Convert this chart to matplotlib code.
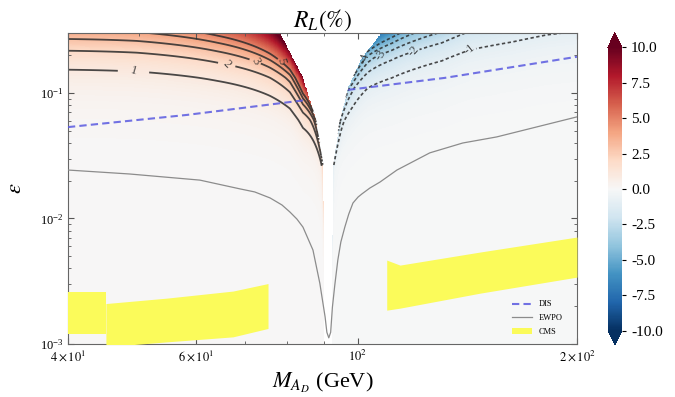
import numpy as np
import matplotlib

matplotlib.use("Agg")
import matplotlib.pyplot as plt
from matplotlib.ticker import LogLocator, NullFormatter

plt.rcParams["font.family"] = "serif"
plt.rcParams["font.serif"] = ["Liberation Serif", "DejaVu Serif"]
plt.rcParams["mathtext.fontset"] = "stix"

# R_L = +1 contour below the Z pole (M in GeV, epsilon)
unit_m_low = np.array([40.0, 49.7, 64.1, 75.8, 80.7, 84.1, 88.9])
unit_eps_low = np.array([0.153, 0.148, 0.1247, 0.0946, 0.075, 0.0526, 0.029])

# R_L = -1 contour above the Z pole
unit_m_high = np.array([95.1, 98.2, 103.3, 111.4, 121.0, 130.5, 142.6, 163.3, 182.0, 200.0])
unit_eps_high = np.array([0.0526, 0.0759, 0.1096, 0.1317, 0.158, 0.180, 0.2203, 0.255, 0.29, 0.31])

# edges of the blank V around the Z pole (left edge, right edge)
blank_m_low = np.array([78.2, 84.1, 87.6, 89.6, 90.3])
blank_eps_low = np.array([0.30, 0.132, 0.061, 0.0267, 1e-4])
blank_m_high = np.array([91.9, 92.4, 93.0, 94.5, 97.0, 101.3, 107.8])
blank_eps_high = np.array([1e-4, 0.025, 0.0321, 0.0598, 0.1096, 0.190, 0.30])
tip_eps = 0.026

# DIS bound, two pieces
dis_m_low = np.array([40.0, 58.3, 85.2])
dis_eps_low = np.array([0.0534, 0.0668, 0.0880])
dis_m_high = np.array([97.0, 131.7, 200.0])
dis_eps_high = np.array([0.1057, 0.1317, 0.194])

# EWPO bound
ewpo_m = np.array([40.0, 48.6, 60.7, 68.9, 72.2, 75.8, 78.7, 80.7, 82.5, 84.1, 86.8, 88.7, 90.2, 90.7,
                   91.25, 91.8, 92.3, 93.0, 93.9, 94.8, 96.0, 97.2, 98.5, 100.1, 101.3, 103.9, 107.3,
                   113.2, 125.6, 139.4, 155.2, 176.2, 200.0])
ewpo_eps = np.array([0.0243, 0.0226, 0.0202, 0.0172, 0.01626, 0.01456, 0.0128, 0.01125, 0.00989, 0.00853,
                     0.0056, 0.00305, 0.00164, 0.00124, 0.00112, 0.00124, 0.00196, 0.00294, 0.00466,
                     0.00649, 0.00853, 0.01083, 0.01327, 0.0148, 0.01566, 0.01746, 0.0195, 0.0243,
                     0.0333, 0.0399, 0.0446, 0.0536, 0.0644])

# CMS band, three pieces
cms_a_m = np.array([40.0, 45.1])
cms_a_top = np.array([0.00259, 0.00259])
cms_a_bot = np.array([0.0012, 0.0012])
cms_b_m = np.array([45.1, 54.7, 67.4, 75.3])
cms_b_top = np.array([0.0021, 0.00232, 0.00264, 0.00303])
cms_b_bot = np.array([0.00095, 0.00104, 0.00114, 0.00133])
cms_c_m = np.array([109.6, 114.3, 147.2, 200.0])
cms_c_top = np.array([0.00466, 0.00425, 0.0054, 0.00711])
cms_c_bot = np.array([0.00186, 0.00193, 0.00254, 0.00341])

pos_levels = [1, 2, 3, 4, 5]
neg_levels = [-5, -4, -3, -2, -1]
pos_label_at = [(49.7, 0.153), (65.7, 0.167), (73.4, 0.18), (80.2, 0.18)]
neg_label_at = [(142.6, 0.2203), (117.2, 0.2203), (109.6, 0.197), (102.3, 0.19)]

x_tick_vals = [40, 60, 100, 200]
x_tick_labels = [r"$4\times10^{1}$", r"$6\times10^{1}$", r"$10^{2}$", r"$2\times10^{2}$"]
cbar_ticks = [-10.0, -7.5, -5.0, -2.5, 0.0, 2.5, 5.0, 7.5, 10.0]
pole_gap = 63.0  # pole sits beyond the blank edge by pole_gap * eps**1.5 GeV


def pole_low(e):
    # left edge of the blank V as a function of epsilon, pushed out to the pole
    edge = np.interp(np.log10(e), np.log10(blank_eps_low[::-1]), blank_m_low[::-1])
    return edge, edge + pole_gap * e ** 1.5


def pole_high(e):
    edge = np.interp(np.log10(e), np.log10(blank_eps_high), blank_m_high)
    return edge, edge - pole_gap * e ** 1.5


# R_L grid: eps^2 / (pole^2 - M^2), normalised so the +/-1 contours pass the read points
amp_low = (pole_low(unit_eps_low)[1] ** 2 - unit_m_low ** 2) / unit_eps_low ** 2
amp_high = (unit_m_high ** 2 - pole_high(unit_eps_high)[1] ** 2) / unit_eps_high ** 2

m = np.geomspace(40, 200, 900)
eps = np.geomspace(1e-3, 0.3, 600)
MM, EE = np.meshgrid(m, eps)
a_low = np.interp(np.log10(m), np.log10(unit_m_low), amp_low)[np.newaxis, :]
a_high = np.interp(np.log10(m), np.log10(unit_m_high), amp_high)[np.newaxis, :]
edge_low, p_low = (v[:, np.newaxis] for v in pole_low(eps))
edge_high, p_high = (v[:, np.newaxis] for v in pole_high(eps))
left = MM < edge_low
right = MM > edge_high
with np.errstate(divide="ignore", invalid="ignore"):
    R = np.where(left, a_low * EE ** 2 / (p_low ** 2 - MM ** 2),
                 -a_high * EE ** 2 / (MM ** 2 - p_high ** 2))
R = np.ma.masked_where(~(left | right), R)
# contours stop where the blank V narrows to the thin column
R_lines = np.ma.masked_where((EE < tip_eps) & (MM > 86) & (MM < 96), R)

fig = plt.figure(figsize=(6.75, 3.97), dpi=100)
ax = fig.add_axes([0.1007, 0.1335, 0.754, 0.7834])
cax = fig.add_axes([0.9007, 0.131, 0.0207, 0.786])

pc = ax.pcolormesh(m, eps, R, cmap="RdBu_r", vmin=-10, vmax=10, shading="auto", rasterized=True)

cs_pos = ax.contour(m, eps, R_lines, levels=pos_levels, colors="#2b2b2b", linewidths=1.3,
                    linestyles="solid", alpha=0.85)
cs_neg = ax.contour(m, eps, R_lines, levels=neg_levels, colors="#2b2b2b", linewidths=1.2,
                    linestyles=[(0, (2.0, 1.5))], alpha=0.85)
ax.clabel(cs_pos, fmt="%d", fontsize=9, manual=pos_label_at)
ax.clabel(cs_neg, fmt="%d", fontsize=9, manual=neg_label_at)

ax.fill_between(cms_a_m, cms_a_bot, cms_a_top, color="#fbfb5a", lw=0, zorder=3)
ax.fill_between(cms_b_m, cms_b_bot, cms_b_top, color="#fbfb5a", lw=0, zorder=3)
ax.fill_between(cms_c_m, cms_c_bot, cms_c_top, color="#fbfb5a", lw=0, zorder=3, label="CMS")

ax.plot(ewpo_m, ewpo_eps, color="#8c8c8c", lw=0.9, zorder=4, label="EWPO")
ax.plot(dis_m_low, dis_eps_low, color="#5a5ae0", lw=1.5, ls=(0, (3.5, 2)), alpha=0.85, zorder=5, label="DIS")
ax.plot(dis_m_high, dis_eps_high, color="#5a5ae0", lw=1.5, ls=(0, (3.5, 2)), alpha=0.85, zorder=5)

ax.set_xscale("log")
ax.set_yscale("log")
ax.set_xlim(40, 200)
ax.set_ylim(1e-3, 0.3)
ax.set_xticks(x_tick_vals)
ax.set_xticklabels(x_tick_labels)
ax.xaxis.set_minor_locator(LogLocator(base=10, subs=np.arange(2, 10)))
ax.xaxis.set_minor_formatter(NullFormatter())
ax.tick_params(which="both", direction="in", top=True, right=True, labelsize=9, color="#555555")
ax.tick_params(which="major", length=4)
ax.tick_params(which="minor", length=2)
for s in ax.spines.values():
    s.set_color("#666666")

ax.set_title(r"$R_L(\%)$", fontsize=17, pad=0)
ax.set_xlabel(r"$M_{A_D}$ (GeV)", fontsize=16, labelpad=5)
ax.set_ylabel(r"$\varepsilon$", fontsize=16, labelpad=10)

handles, labels = ax.get_legend_handles_labels()
order = [labels.index(k) for k in ("DIS", "EWPO", "CMS")]
ax.legend([handles[i] for i in order], [labels[i] for i in order], loc="lower right",
          bbox_to_anchor=(0.975, 0.02), frameon=False, fontsize=6, handlelength=2.4,
          labelspacing=0.7, borderpad=0.2, borderaxespad=0)

cb = fig.colorbar(pc, cax=cax, extend="both", ticks=cbar_ticks, format="%.1f")
cb.ax.tick_params(labelsize=11, length=3)
cb.outline.set_visible(False)

fig.savefig("out.png", dpi=100)
